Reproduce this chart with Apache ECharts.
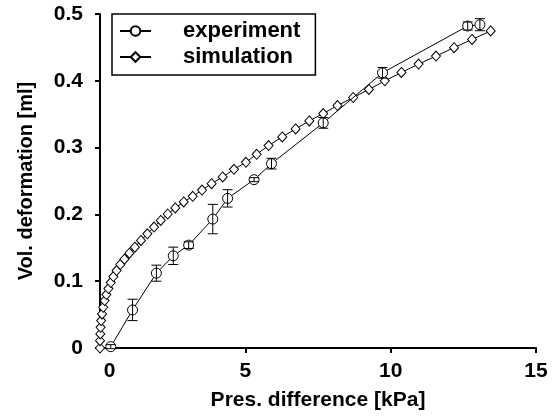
<!DOCTYPE html>
<html>
<head>
<meta charset="utf-8">
<script src="https://cdn.jsdelivr.net/npm/echarts@6/dist/echarts.min.js"></script>
<style>
html,body{margin:0;padding:0;background:#fff;}
#chart{width:554px;height:419px;}
</style>
</head>
<body>
<div id="chart"></div>
<script>
// Experiment (circles with error bars)
var expX = [0.37, 1.12, 1.94, 2.52, 3.05, 3.88, 4.39, 5.30, 5.90, 7.68, 9.72, 12.65, 13.07];
var expY = [0.002, 0.057, 0.112, 0.138, 0.154, 0.193, 0.224, 0.252, 0.276, 0.337, 0.412, 0.482, 0.484];
var expErr = [0.003, 0.016, 0.012, 0.013, 0.005, 0.022, 0.013, 0.003, 0.008, 0.008, 0.008, 0.006, 0.009];
// Simulation (diamonds)
var simX = [0, 0, 0.01, 0.02, 0.04, 0.07, 0.11, 0.16, 0.22, 0.29, 0.37, 0.46, 0.57, 0.70, 0.84, 1.01, 1.20, 1.41, 1.63, 1.86, 2.09, 2.33, 2.59, 2.88, 3.19, 3.51, 3.84, 4.22, 4.61, 5.02, 5.39, 5.80, 6.27, 6.73, 7.20, 7.68, 8.17, 8.71, 9.25, 9.80, 10.37, 10.96, 11.56, 12.18, 12.80, 13.44];
var simY = [0, 0.011, 0.021, 0.031, 0.041, 0.051, 0.061, 0.071, 0.080, 0.089, 0.098, 0.107, 0.116, 0.125, 0.133, 0.142, 0.151, 0.161, 0.171, 0.181, 0.191, 0.2006, 0.2096, 0.2186, 0.227, 0.2365, 0.246, 0.256, 0.2675, 0.278, 0.290, 0.303, 0.316, 0.328, 0.340, 0.351, 0.363, 0.375, 0.387, 0.400, 0.4125, 0.425, 0.437, 0.4496, 0.462, 0.4746];
var seriesNames = ['experiment', 'simulation'];
var xTitle = 'Pres. difference [kPa]';
var yTitle = 'Vol. deformation [ml]';

var FONT = "'Liberation Sans', Arial, sans-serif";
var expData = expX.map(function (x, i) { return [x, expY[i]]; });
var errData = expX.map(function (x, i) { return [x, expY[i], expErr[i]]; });
var simData = simX.map(function (x, i) { return [x, simY[i]]; });

var chart = echarts.init(document.getElementById('chart'), null, {renderer: 'canvas'});
chart.setOption({
  animation: false,
  backgroundColor: '#fff',
  grid: {left: 100, right: 18, top: 14, bottom: 71, containLabel: false},
  legend: {
    data: seriesNames,
    orient: 'vertical',
    left: 112, top: 14,
    itemWidth: 31, itemHeight: 12, itemGap: 4,
    padding: [6, 15, 7, 7],
    borderColor: '#000', borderWidth: 1.5,
    backgroundColor: '#fff',
    textStyle: {color: '#000', fontFamily: FONT, fontWeight: 'bold', fontSize: 22, padding: [0, 0, 0, 27]}
  },
  xAxis: {
    type: 'value', min: 0, max: 15, interval: 5,
    name: xTitle, nameLocation: 'middle', nameGap: 42,
    nameTextStyle: {color: '#000', fontFamily: FONT, fontWeight: 'bold', fontSize: 21},
    axisLine: {show: true, onZero: false, lineStyle: {color: '#000', width: 2}},
    axisTick: {show: true, inside: false, length: 5, lineStyle: {color: '#000', width: 2}},
    axisLabel: {
      color: '#000', fontFamily: FONT, fontWeight: 'bold', fontSize: 21, margin: 13,
      formatter: function (v) { return v === 0 ? '{z|0}' : String(v); },
      rich: {z: {color: '#000', fontFamily: FONT, fontWeight: 'bold', fontSize: 21, padding: [0, 0, 0, 19]}}
    },
    splitLine: {show: false}
  },
  yAxis: {
    type: 'value', min: 0, max: 0.5, interval: 0.1,
    name: yTitle, nameLocation: 'middle', nameGap: 64,
    nameTextStyle: {color: '#000', fontFamily: FONT, fontWeight: 'bold', fontSize: 20},
    axisLine: {show: true, onZero: false, lineStyle: {color: '#000', width: 2}},
    axisTick: {show: true, inside: false, length: 5, lineStyle: {color: '#000', width: 2}},
    axisLabel: {color: '#000', fontFamily: FONT, fontWeight: 'bold', fontSize: 21, margin: 17},
    splitLine: {show: false}
  },
  series: [
    {
      name: 'simulation', type: 'line', data: simData, clip: false,
      symbol: 'diamond', symbolSize: [9, 10], showAllSymbol: true,
      lineStyle: {color: '#000', width: 1},
      itemStyle: {color: '#fff', borderColor: '#000', borderWidth: 1},
      z: 2
    },
    {
      name: 'experiment', type: 'line', data: expData, clip: false,
      symbol: 'circle', symbolSize: 10, showAllSymbol: true,
      lineStyle: {color: '#000', width: 1},
      itemStyle: {color: '#fff', borderColor: '#000', borderWidth: 1},
      z: 3
    },
    {
      name: 'errorbars', type: 'custom', data: errData, clip: false, z: 4,
      encode: {x: 0, y: 1},
      renderItem: function (params, api) {
        var x = api.value(0), y = api.value(1), e = api.value(2);
        var lo = api.coord([x, y - e]);
        var hi = api.coord([x, y + e]);
        var hw = 5;
        var st = {stroke: '#000', lineWidth: 1, fill: null};
        return {
          type: 'group',
          children: [
            {type: 'line', shape: {x1: lo[0], y1: lo[1], x2: hi[0], y2: hi[1]}, style: st},
            {type: 'line', shape: {x1: lo[0] - hw, y1: lo[1], x2: lo[0] + hw, y2: lo[1]}, style: st},
            {type: 'line', shape: {x1: hi[0] - hw, y1: hi[1], x2: hi[0] + hw, y2: hi[1]}, style: st}
          ]
        };
      }
    }
  ]
});
</script>
</body>
</html>
